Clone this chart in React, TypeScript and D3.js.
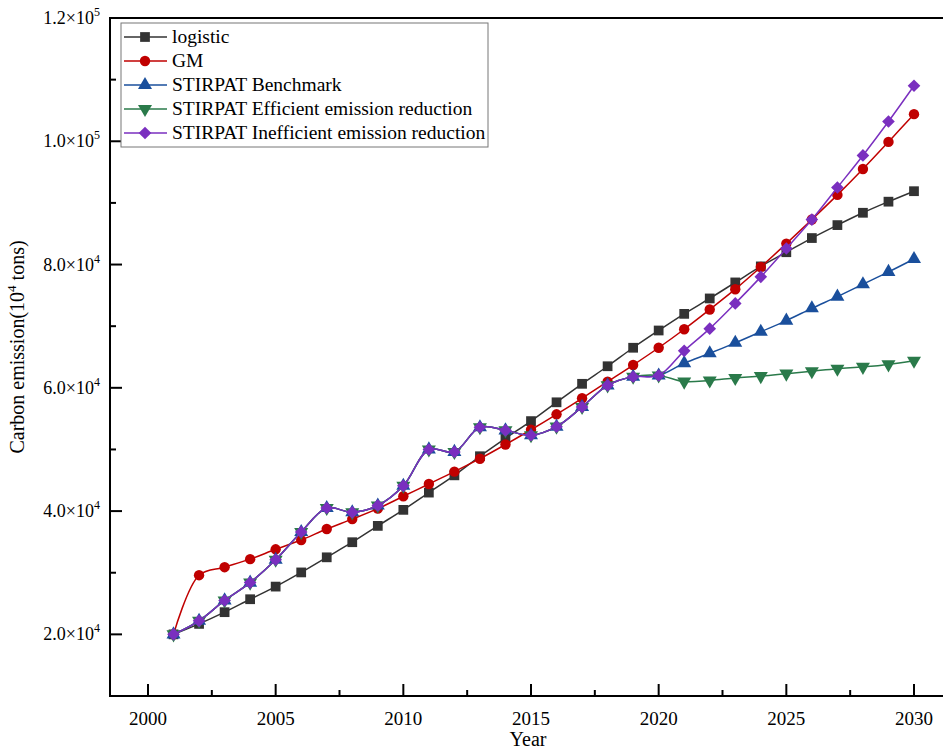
import React from "react";
import * as d3 from "d3";

// values (10^4 tons)
const years = [
  2001, 2002, 2003, 2004, 2005, 2006, 2007, 2008, 2009, 2010,
  2011, 2012, 2013, 2014, 2015, 2016, 2017, 2018, 2019, 2020,
  2021, 2022, 2023, 2024, 2025, 2026, 2027, 2028, 2029, 2030,
];

const logistic = [
  20000, 21700, 23600, 25700, 27750, 30050, 32500, 34950, 37600, 40200,
  43000, 45800, 48900, 51800, 54600, 57650, 60650, 63500, 66500, 69300,
  72000, 74500, 77100, 79700, 82000, 84300, 86400, 88400, 90200, 91900,
];

const gm = [
  20000, 29600, 30900, 32200, 33800, 35300, 37100, 38700, 40400, 42400,
  44400, 46400, 48500, 50800, 53200, 55700, 58300, 61000, 63700, 66500,
  69500, 72700, 76000, 79600, 83400, 87300, 91300, 95500, 99900, 104400,
];

// STIRPAT history shared by the three scenarios
const stirpatHist = [
  20000, 22200, 25500, 28400, 32100, 36600, 40500, 39800, 40900, 44100,
  50000, 49600, 53600, 53100, 52300, 53700, 56900, 60400, 61800, 62000,
];
const benchmarkFuture = [64000, 65600, 67300, 69100, 70900, 72900, 74800, 76800, 78800, 80900];
const efficientFuture = [61000, 61200, 61600, 61900, 62300, 62700, 63100, 63400, 63800, 64400];
const inefficientFuture = [66000, 69600, 73700, 78000, 82600, 87300, 92500, 97700, 103200, 109000];

const xTicks = [2000, 2005, 2010, 2015, 2020, 2025, 2030];
const yTicks = [20000, 40000, 60000, 80000, 100000, 120000];
const yTickLabels = [
  ["2.0", "4"], ["4.0", "4"], ["6.0", "4"], ["8.0", "4"], ["1.0", "5"], ["1.2", "5"],
];

const series = [
  { name: "logistic", values: logistic, color: "#333333", marker: "square" },
  { name: "GM", values: gm, color: "#c00000", marker: "circle" },
  { name: "STIRPAT Benchmark", values: [...stirpatHist, ...benchmarkFuture], color: "#1a4f9c", marker: "triangle" },
  { name: "STIRPAT Efficient emission reduction", values: [...stirpatHist, ...efficientFuture], color: "#2a7a4a", marker: "triangleDown" },
  { name: "STIRPAT Inefficient emission reduction", values: [...stirpatHist, ...inefficientFuture], color: "#7a2fbf", marker: "diamond" },
];

const W = 943, H = 751;
const left = 110, top = 18, bottom = 696, right = 952;

const x = d3.scaleLinear().domain([2000, 2030]).range([148, 914]);
const y = d3.scaleLinear().domain([10000, 120000]).range([bottom, top]);

const symbolFor = (m: string) => {
  if (m === "square") return d3.symbol(d3.symbolSquare, 95);
  if (m === "circle") return d3.symbol(d3.symbolCircle, 85);
  if (m === "diamond") return d3.symbol(d3.symbolSquare, 80);
  return d3.symbol(d3.symbolTriangle, 85);
};

function Marker({ m, cx, cy, color }: { m: string; cx: number; cy: number; color: string }) {
  const rot = m === "triangleDown" ? 180 : m === "diamond" ? 45 : 0;
  return (
    <path
      d={symbolFor(m)() as string}
      transform={`translate(${cx},${cy}) rotate(${rot})`}
      fill={color}
    />
  );
}

export default function App() {
  const line = d3
    .line<number>()
    .x((_, i) => x(years[i]))
    .y((d) => y(d))
    .curve(d3.curveCatmullRom.alpha(0.5));

  const font = "'Liberation Serif', 'Times New Roman', serif";
  const minorX = d3.range(2000, 2031, 2.5).filter((v) => v % 5 !== 0);
  const minorY = [30000, 50000, 70000, 90000, 110000];

  return (
    <svg
      width={W}
      height={H}
      style={{ position: "absolute", left: 0, top: 0, background: "#fff" }}
      fontFamily={font}
    >
      {/* frame */}
      <g stroke="#000" strokeWidth={2} fill="none">
        <line x1={left} y1={top} x2={left} y2={bottom + 1} />
        <line x1={left - 1} y1={bottom} x2={right} y2={bottom} />
        <line x1={left - 1} y1={top} x2={right} y2={top} />
      </g>

      {/* ticks, pointing inward */}
      <g stroke="#000" strokeWidth={2}>
        {xTicks.map((t) => (
          <line key={t} x1={x(t)} x2={x(t)} y1={bottom} y2={bottom - 12} />
        ))}
        {minorX.map((t) => (
          <line key={t} x1={x(t)} x2={x(t)} y1={bottom} y2={bottom - 6} />
        ))}
        {yTicks.map((t) => (
          <line key={t} x1={left} x2={left + 12} y1={y(t)} y2={y(t)} />
        ))}
        {minorY.map((t) => (
          <line key={t} x1={left} x2={left + 6} y1={y(t)} y2={y(t)} />
        ))}
      </g>

      <g fontSize={19} fill="#000" textAnchor="middle">
        {xTicks.map((t) => (
          <text key={t} x={x(t)} y={bottom + 29}>{t}</text>
        ))}
      </g>
      <g fontSize={18} fill="#000" textAnchor="end">
        {yTicks.map((t, i) => (
          <text key={t} x={left - 10} y={y(t) + 6}>
            {yTickLabels[i][0]}×10
            <tspan fontSize={12} dy={-8}>{yTickLabels[i][1]}</tspan>
          </text>
        ))}
      </g>

      <text x={528} y={746} fontSize={20} textAnchor="middle">Year</text>
      <text
        transform={`translate(24,${(top + bottom) / 2 - 10}) rotate(-90)`}
        fontSize={20}
        textAnchor="middle"
      >
        Carbon emission(10<tspan fontSize={13} dy={-8}>4</tspan>
        <tspan dy={8}> tons)</tspan>
      </text>

      {/* series */}
      {series.map((s) => (
        <g key={s.name}>
          <path d={line(s.values) as string} fill="none" stroke={s.color} strokeWidth={1.5} />
          {s.values.map((v, i) => (
            <Marker key={i} m={s.marker} cx={x(years[i])} cy={y(v)} color={s.color} />
          ))}
        </g>
      ))}

      {/* legend */}
      <rect x={121} y={23} width={367} height={124} fill="#fff" stroke="#777" strokeWidth={1} />
      {series.map((s, i) => {
        const ly = 37 + i * 24;
        return (
          <g key={s.name}>
            <line x1={124} x2={167} y1={ly} y2={ly} stroke={s.color} strokeWidth={1.5} />
            <Marker m={s.marker} cx={145} cy={ly} color={s.color} />
            <text x={172} y={ly + 6} fontSize={19.5}>{s.name}</text>
          </g>
        );
      })}
    </svg>
  );
}
